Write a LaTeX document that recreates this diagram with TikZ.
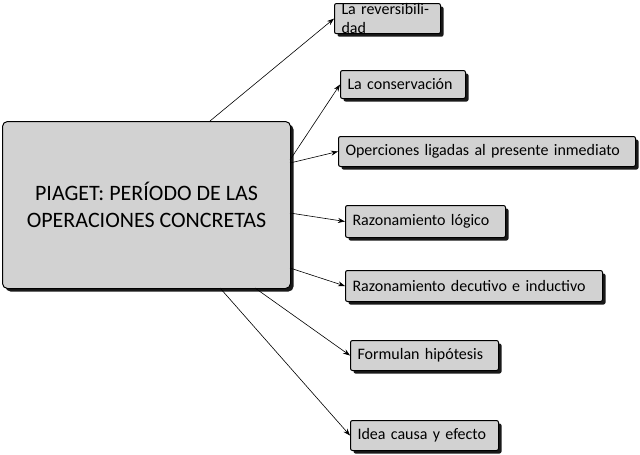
\documentclass[tikz,border=0pt]{standalone}
\usepackage{fontspec}
\setmainfont{Carlito}
\usetikzlibrary{shadows,arrows.meta}
\begin{document}
\begin{tikzpicture}[x=1pt,y=-1pt,
  box/.style={draw=black,line width=1pt,fill=gray!35,rounded corners=2pt,anchor=north west,inner xsep=7pt,inner ysep=0pt,align=left,font=\fontsize{16}{19}\selectfont,drop shadow={shadow xshift=3pt,shadow yshift=-3pt,fill=black,opacity=0.9}},
  arr/.style={-{Stealth[length=7pt,width=5pt]},line width=0.6pt}]
\useasboundingbox (0,0) rectangle (640,455);
\node[box,minimum width=288pt,minimum height=167pt,align=center,font=\fontsize{22}{27}\selectfont,rounded corners=5pt] (m) at (2,121) {PIAGET: PERÍODO DE LAS\\OPERACIONES CONCRETAS};
\node[box,text width=92pt,minimum height=27pt] (b1) at (334,3) {La reversibilidad};
\node[box,text width=111pt,minimum height=28pt] (b2) at (340,70) {La conservación};
\node[box,text width=283pt,minimum height=30pt] (b3) at (338,136) {Operciones ligadas al presente inmediato};
\node[box,text width=146pt,minimum height=32pt] (b4) at (345,205) {Razonamiento lógico};
\node[box,text width=243pt,minimum height=31pt] (b5) at (345,270) {Razonamiento decutivo e inductivo};
\node[box,text width=134pt,minimum height=30pt] (b6) at (350,340) {Formulan hipótesis};
\node[box,text width=134pt,minimum height=30pt] (b7) at (350,420) {Idea causa y efecto};
\coordinate (s1) at (210,121);
\coordinate (s2) at (290,160);
\coordinate (s3) at (290,163);
\coordinate (s4) at (290,213);
\coordinate (s5) at (290,268);
\coordinate (s6) at (255,288);
\coordinate (s7) at (220,288);
\draw[arr] (s1) -- (b1.west);
\draw[arr] (s2) -- (b2.west);
\draw[arr] (s3) -- (b3.west);
\draw[arr] (s4) -- (b4.west);
\draw[arr] (s5) -- (b5.west);
\draw[arr] (s6) -- (b6.west);
\draw[arr] (s7) -- (b7.west);
\end{tikzpicture}
\end{document}
